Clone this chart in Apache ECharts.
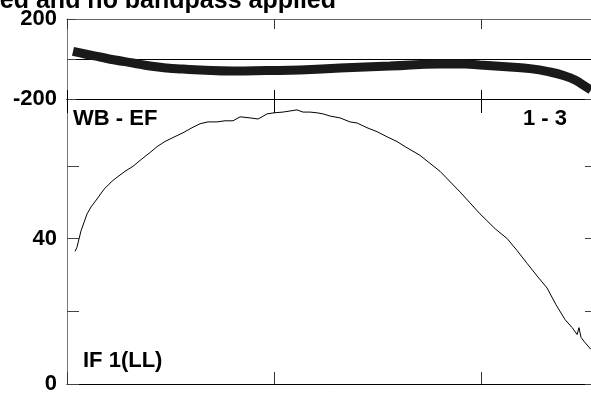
<!DOCTYPE html>
<html>
<head>
<meta charset="utf-8">
<script src="https://cdn.jsdelivr.net/npm/echarts@6/dist/echarts.min.js"></script>
<style>
html,body{margin:0;padding:0;background:#fff;}
#chart{width:591px;height:395px;}
</style>
</head>
<body>
<div id="chart"></div>
<script>
// Top panel (phase) values
var topX = [0.029, 0.087, 0.159, 0.232, 0.319, 0.401, 0.483, 0.560, 0.643, 0.802, 0.966, 1.126, 1.319, 1.560, 1.802, 1.923, 1.995, 2.140, 2.237, 2.333, 2.406, 2.454, 2.493, 2.531];
var topY = [38, 25, 10, -5, -20, -35, -45, -50, -55, -60, -58, -55, -45, -35, -25, -25, -30, -40, -48, -65, -85, -105, -130, -155];
// Bottom panel (amplitude) values
var botX = [0.039, 0.048, 0.068, 0.097, 0.116, 0.145, 0.179, 0.218, 0.242, 0.280, 0.319, 0.353, 0.377, 0.406, 0.435, 0.473, 0.512, 0.560, 0.604, 0.643, 0.681, 0.725, 0.763, 0.802, 0.836, 0.884, 0.923, 0.942, 0.966, 1.000, 1.043, 1.077, 1.111, 1.140, 1.174, 1.208, 1.237, 1.271, 1.319, 1.367, 1.401, 1.449, 1.498, 1.546, 1.594, 1.633, 1.705, 1.802, 1.899, 1.995, 2.068, 2.126, 2.174, 2.222, 2.271, 2.319, 2.362, 2.406, 2.440, 2.464, 2.473, 2.483, 2.502, 2.531];
var botY = [36.5, 37.6, 42.2, 46.8, 48.7, 50.9, 53.6, 55.8, 56.9, 58.5, 59.9, 61.5, 62.6, 63.9, 65.3, 66.7, 67.8, 69.1, 70.5, 71.6, 72.1, 72.1, 72.4, 72.4, 73.5, 73.2, 72.9, 73.5, 74.3, 74.6, 74.8, 75.1, 75.4, 74.8, 74.8, 74.6, 74.3, 73.7, 73.2, 72.1, 71.8, 70.5, 69.4, 68.0, 66.7, 65.3, 62.9, 58.5, 52.8, 46.8, 42.7, 40.0, 36.7, 33.2, 29.7, 26.4, 21.8, 17.7, 15.5, 13.6, 15.5, 12.8, 11.4, 9.5];
var topTicks = [-200, 0, 200];
var botTicks = [0, 40];
var titleText = 'ed and no bandpass applied';
var panelLabels = ['WB - EF', '1 - 3', 'IF 1(LL)'];

function pairs(xs, ys){ return xs.map(function(x,i){ return [x, ys[i]]; }); }

var FONT = 'Liberation Sans';
function lbl(extra){
  var o = {fontFamily: FONT, fontWeight: 'bold', fontSize: 22, color: '#000'};
  for (var k in extra) o[k] = extra[k];
  return o;
}

var chart = echarts.init(document.getElementById('chart'), null, {renderer: 'canvas'});
var XMAX = 2.531;
var YMAX_B = 78.4;
chart.setOption({
  animation: false,
  backgroundColor: '#fff',
  grid: [
    {left: 67, top: 19, right: 0, height: 80},
    {left: 67, top: 99, right: 0, bottom: 8}
  ],
  xAxis: [
    {gridIndex: 0, type: 'value', min: 0, max: XMAX, interval: 1, position: 'bottom',
     axisLine: {onZero: false, lineStyle: {color: '#000', width: 1}},
     axisTick: {inside: true, length: 9, lineStyle: {color: '#000'}},
     axisLabel: {show: false}, splitLine: {show: false}},
    {gridIndex: 0, type: 'value', min: 0, max: XMAX, interval: 1, position: 'top',
     axisLine: {onZero: false, lineStyle: {color: '#666', width: 1}},
     axisTick: {inside: true, length: 10, lineStyle: {color: '#333'}},
     axisLabel: {show: false}, splitLine: {show: false}},
    {gridIndex: 1, type: 'value', min: 0, max: XMAX, interval: 1, position: 'bottom',
     axisLine: {onZero: false, lineStyle: {color: '#000', width: 1}},
     axisTick: {inside: true, length: 12, lineStyle: {color: '#333'}},
     axisLabel: {show: false}, splitLine: {show: false}},
    {gridIndex: 1, type: 'value', min: 0, max: XMAX, interval: 1, position: 'top',
     axisLine: {onZero: false, lineStyle: {color: '#000', width: 1}},
     axisTick: {inside: true, length: 14, lineStyle: {color: '#000'}},
     axisLabel: {show: false}, splitLine: {show: false}}
  ],
  yAxis: [
    {gridIndex: 0, type: 'value', min: -200, max: 200, interval: 200, position: 'left',
     axisLine: {show: true, onZero: false, lineStyle: {color: '#777'}},
     axisTick: {show: true, inside: true, length: 9, lineStyle: {color: '#444'}},
     axisLabel: lbl({margin: 10, formatter: function(v){ return (v === topTicks[0] || v === topTicks[2]) ? String(v) : ''; }}),
     splitLine: {show: true, lineStyle: {color: '#000', width: 1}}},
    {gridIndex: 1, type: 'value', min: 0, max: YMAX_B, interval: 20, position: 'left',
     axisLine: {show: true, onZero: false, lineStyle: {color: '#777'}},
     axisTick: {show: true, inside: true, length: 12, lineStyle: {color: '#444'}},
     axisLabel: lbl({margin: 10, showMaxLabel: false, formatter: function(v){ return botTicks.indexOf(v) >= 0 ? String(v) : ''; }}),
     splitLine: {show: false}},
    {gridIndex: 1, type: 'value', min: 0, max: YMAX_B, interval: 20, position: 'right',
     axisLine: {show: false, onZero: false},
     axisTick: {show: true, inside: true, length: 6, lineStyle: {color: '#444'}},
     axisLabel: {show: false}, splitLine: {show: false}}
  ],
  series: [
    {type: 'line', xAxisIndex: 0, yAxisIndex: 0, data: pairs(topX, topY), showSymbol: false, smooth: true,
     lineStyle: {color: '#1a1a1a', width: 9}, silent: true},
    {type: 'line', xAxisIndex: 2, yAxisIndex: 1, data: pairs(botX, botY), showSymbol: false,
     lineStyle: {color: '#000', width: 1}, silent: true}
  ],
  graphic: [
    {type: 'text', x: 336, y: 14, style: {text: titleText, align: 'right', verticalAlign: 'bottom', font: 'bold 25px "Liberation Sans"', fill: '#000'}},
    {type: 'text', x: 73, y: 119, style: {text: panelLabels[0], verticalAlign: 'middle', font: 'bold 22px "Liberation Sans"', fill: '#000'}},
    {type: 'text', x: 523, y: 119, style: {text: panelLabels[1], verticalAlign: 'middle', font: 'bold 22px "Liberation Sans"', fill: '#000'}},
    {type: 'text', x: 83, y: 361, style: {text: panelLabels[2], verticalAlign: 'middle', font: 'bold 22px "Liberation Sans"', fill: '#000'}}
  ]
});
</script>
</body>
</html>
